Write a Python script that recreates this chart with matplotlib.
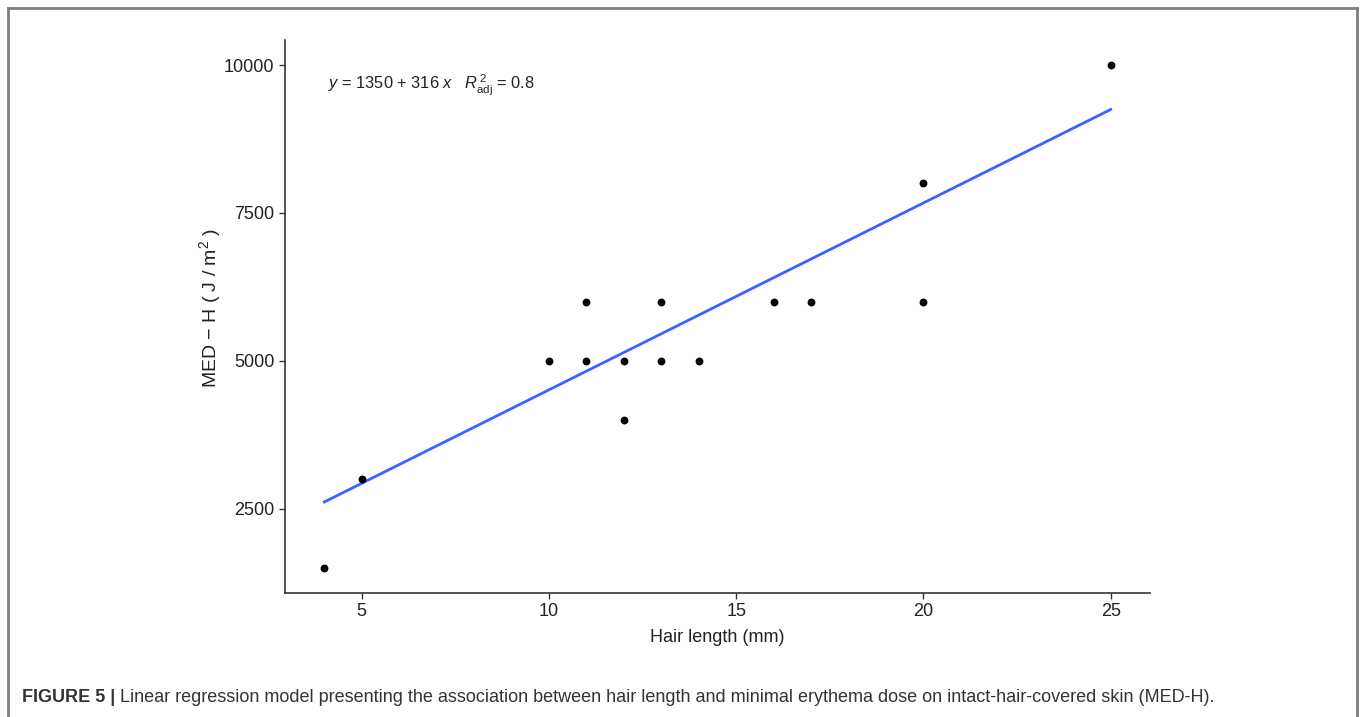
import matplotlib
matplotlib.use("Agg")
import matplotlib.pyplot as plt
import numpy as np

plt.rcParams['font.family'] = ['Liberation Sans', 'DejaVu Sans']
plt.rcParams['mathtext.fontset'] = 'custom'
plt.rcParams['mathtext.rm'] = 'Liberation Sans'
plt.rcParams['mathtext.it'] = 'Liberation Sans:italic'

# hair length (mm) vs MED-H (J/m^2)
hair_length = [4, 5, 10, 11, 11, 12, 12, 13, 13, 14, 16, 17, 20, 20, 25]
med_h = [1500, 3000, 5000, 6000, 5000, 5000, 4000, 6000, 5000, 5000, 6000, 6000, 8000, 6000, 10000]

intercept = 1350
slope = 316
r2_adj = 0.8

x_ticks = [5, 10, 15, 20, 25]
y_ticks = [2500, 5000, 7500, 10000]

fig = plt.figure(figsize=(13.65, 7.17), dpi=100)
W, H = 1365, 717
ax = fig.add_axes([285 / W, 1 - 593 / H, (1150 - 285) / W, (593 - 40) / H])

ax.scatter(hair_length, med_h, s=32, color='black', zorder=3, linewidths=0)

x_fit = np.linspace(min(hair_length), max(hair_length), 100)
ax.plot(x_fit, intercept + slope * x_fit, color='#3366FF', lw=2, zorder=2)

x_lo, x_hi = min(hair_length), max(hair_length)
y_lo, y_hi = min(med_h), max(med_h)
ax.set_xlim(x_lo - 0.05 * (x_hi - x_lo), x_hi + 0.05 * (x_hi - x_lo))
ax.set_ylim(y_lo - 0.05 * (y_hi - y_lo), y_hi + 0.05 * (y_hi - y_lo))
ax.set_xticks(x_ticks)
ax.set_yticks(y_ticks)

for s in ['top', 'right']:
    ax.spines[s].set_visible(False)
for s in ['left', 'bottom']:
    ax.spines[s].set_color('#333333')
    ax.spines[s].set_linewidth(1.2)
ax.tick_params(colors='#333333', labelsize=13, length=4, width=1)
ax.tick_params(labelcolor='#222222')

ax.set_xlabel('Hair length (mm)', fontsize=13, color='#222222', labelpad=6)
ax.set_ylabel('MED − H ( J / m$^{2}$ )', fontsize=14, color='#222222', va='center')
ax.yaxis.set_label_coords(-0.087, 0.515)

ax.text(0.05, 0.918, r'$y$ = 1350 + 316 $x$   $R^{\,2}_{\mathrm{adj}}$ = ' + str(r2_adj),
        transform=ax.transAxes, fontsize=11.8, color='#222222', va='center', ha='left')

# outer frame (no bottom edge)
frame_c = '#7f7f7f'
fig.add_artist(plt.Line2D([8 / W, 8 / W], [0, 1 - 8 / H], color=frame_c, lw=2, transform=fig.transFigure))
fig.add_artist(plt.Line2D([1357 / W, 1357 / W], [0, 1 - 8 / H], color=frame_c, lw=2, transform=fig.transFigure))
fig.add_artist(plt.Line2D([8 / W, 1357 / W], [1 - 8 / H, 1 - 8 / H], color=frame_c, lw=2, transform=fig.transFigure))

cap_font = ['Liberation Sans Narrow', 'Liberation Sans']
t1 = fig.text(22 / W, 1 - 698 / H, 'FIGURE 5 |', fontsize=13, fontweight='bold', family=cap_font,
              color='#333333', va='center', ha='left')
fig.canvas.draw()
bb = t1.get_window_extent()
fig.text((bb.x1 + 5) / W, 1 - 698 / H,
         'Linear regression model presenting the association between hair length and minimal erythema dose on intact-hair-covered skin (MED-H).',
         fontsize=13, family=cap_font, color='#333333', va='center', ha='left')

fig.savefig('out.png', dpi=100)
